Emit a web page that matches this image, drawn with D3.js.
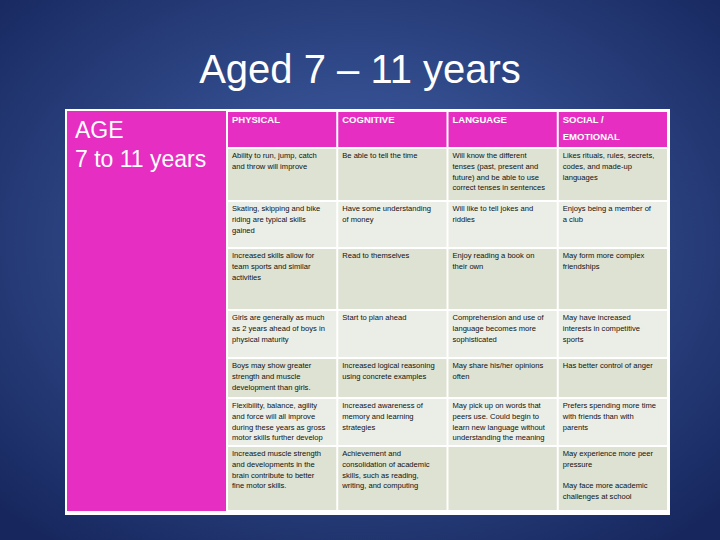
<!DOCTYPE html>
<html>
<head>
<style>
body {margin: 0; font-family: "Liberation Sans", Arial, sans-serif;}
</style>
<script src="https://cdnjs.cloudflare.com/ajax/libs/d3/7.8.5/d3.min.js"></script>
</head>
<body>
<div id="chart-container"></div>
<script>
    const title = "Aged 7 – 11 years";
    const sideLabel = ["AGE", "7 to 11 years"];
    const headers = [["PHYSICAL"], ["COGNITIVE"], ["LANGUAGE"], ["SOCIAL /", "EMOTIONAL"]];

    const physical = [
        ["Ability to run, jump, catch", "and throw will improve"],
        ["Skating, skipping and bike", "riding are typical skills", "gained"],
        ["Increased skills allow for", "team sports and similar", "activities"],
        ["Girls are generally as much", "as 2 years ahead of boys in", "physical maturity"],
        ["Boys may show greater", "strength and muscle", "development than girls."],
        ["Flexibility, balance, agility", "and force will all improve", "during these years as gross", "motor skills further develop"],
        ["Increased muscle strength", "and developments in the", "brain contribute to better", "fine motor skills."]
    ];
    const cognitive = [
        ["Be able to tell the time"],
        ["Have some understanding", "of money"],
        ["Read to themselves"],
        ["Start to plan ahead"],
        ["Increased logical reasoning", "using concrete examples"],
        ["Increased awareness of", "memory and learning", "strategies"],
        ["Achievement and", "consolidation of academic", "skills, such as reading,", "writing, and computing"]
    ];
    const language = [
        ["Will know the different", "tenses (past, present and", "future) and be able to use", "correct tenses in sentences"],
        ["Will like to tell jokes and", "riddles"],
        ["Enjoy reading a book on", "their own"],
        ["Comprehension and use of", "language becomes more", "sophisticated"],
        ["May share his/her opinions", "often"],
        ["May pick up on words that", "peers use. Could begin to", "learn new language without", "understanding the meaning"],
        []
    ];
    const social = [
        ["Likes rituals, rules, secrets,", "codes, and made-up", "languages"],
        ["Enjoys being a member of", "a club"],
        ["May form more complex", "friendships"],
        ["May have increased", "interests in competitive", "sports"],
        ["Has better control of anger"],
        ["Prefers spending more time", "with friends than with", "parents"],
        ["May experience more peer", "pressure", "", "May face more academic", "challenges at school"]
    ];

    // layout
    const W = 720, H = 540;
    const rowHeights = [37, 53, 47, 62, 48, 40, 48, 65];
    const tableTop = 111, tableLeft = 227, tableRight = 668;

    const svg = d3.select("#chart-container").append("svg")
        .attr("width", W).attr("height", H);

    const grad = svg.append("defs").append("radialGradient")
        .attr("id", "bg").attr("cx", "50%").attr("cy", "45%").attr("r", "70%");
    grad.append("stop").attr("offset", "0%").attr("stop-color", "#4566ad");
    grad.append("stop").attr("offset", "100%").attr("stop-color", "#17275e");
    svg.append("rect").attr("width", W).attr("height", H).attr("fill", "url(#bg)");

    svg.append("text")
        .attr("x", 360).attr("y", 83)
        .attr("text-anchor", "middle")
        .attr("fill", "white")
        .style("font-size", "40px")
        .style("font-family", "Liberation Sans, Arial")
        .text(title);

    // frame
    svg.append("rect").attr("x", 65).attr("y", 109).attr("width", tableRight - 65 + 2).attr("height", 406).attr("fill", "white");

    const rowEdges = [tableTop];
    rowHeights.forEach(h => rowEdges.push(rowEdges[rowEdges.length - 1] + h));
    const tableBottom = rowEdges[rowEdges.length - 1];

    svg.append("rect").attr("x", 67).attr("y", tableTop).attr("width", 159)
        .attr("height", tableBottom - tableTop).attr("fill", "#e62ec3");
    svg.append("text").attr("x", 75).attr("fill", "white")
        .style("font-size", "23px")
        .selectAll("tspan").data(sideLabel).join("tspan")
        .attr("x", 75).attr("y", (d, i) => 138 + i * 29).text(d => d);

    const x = d3.scaleBand().domain(d3.range(4)).range([tableLeft, tableRight]);
    const y = d3.scaleOrdinal().domain(d3.range(8)).range(rowEdges);

    const columns = [physical, cognitive, language, social];
    const cells = [];
    headers.forEach((h, c) => cells.push({c: c, r: 0, lines: h, head: true}));
    columns.forEach((col, c) => col.forEach((lines, r) => cells.push({c: c, r: r + 1, lines: lines, head: false})));

    const g = svg.append("g").selectAll("g").data(cells).join("g")
        .attr("transform", d => `translate(${x(d.c) + 1},${y(d.r) + 1})`);

    g.append("rect")
        .attr("width", x.bandwidth() - 2)
        .attr("height", d => rowHeights[d.r] - 2)
        .attr("fill", d => d.head ? "#e62ec3" : (d.r % 2 === 1 ? "#dde2d2" : "#ebeee6"));

    g.append("text")
        .attr("fill", d => d.head ? "white" : "#111")
        .style("font-size", d => d.head ? "9.5px" : "7.6px")
        .style("font-weight", d => d.head ? "bold" : "normal")
        .selectAll("tspan").data(d => d.lines.map(l => ({l: l, head: d.head}))).join("tspan")
        .attr("x", 4)
        .attr("y", (d, i) => d.head ? 11 + i * 17 : 9 + i * 10.8)
        .text(d => d.l);
</script>
</body>
</html>
